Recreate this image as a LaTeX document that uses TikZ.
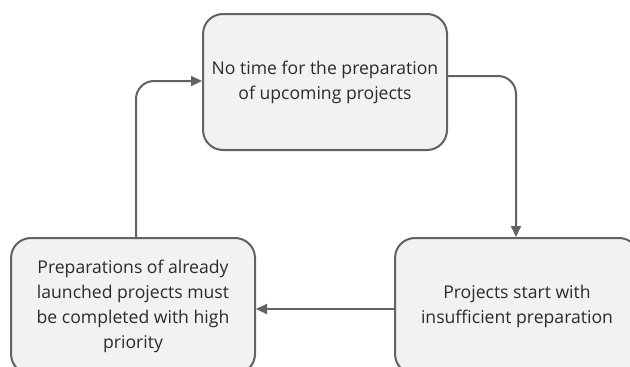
\documentclass[tikz,border=0pt]{standalone}
\usepackage{fontspec}
\setmainfont{Open Sans}
\usetikzlibrary{arrows.meta}
\definecolor{boxfill}{HTML}{F2F2F2}
\definecolor{boxline}{HTML}{626262}
\definecolor{txt}{HTML}{2B2B2B}
\tikzset{
  cyclebox/.style={draw=boxline, fill=boxfill, line width=2pt, rounded corners=20pt,
    minimum width=244pt, minimum height=136pt, align=center, text=txt,
    font=\fontsize{17.6}{25}\selectfont, inner sep=0pt},
  flow/.style={draw=boxline, line width=2pt, rounded corners=18pt,
    -{Triangle[length=11pt,width=10pt]}}
}
\begin{document}
\begin{tikzpicture}[x=1pt,y=-1pt]
  \useasboundingbox (0,0) rectangle (630,367);
  \clip (0,0) rectangle (630,367);
  \fill[white] (0,0) rectangle (630,367);
  \node[cyclebox] (top) at (325,82) {No time for the preparation\\of upcoming projects};
  \node[cyclebox] (right) at (517,306) {Projects start with\\insufficient preparation};
  \node[cyclebox] (left) at (133,306) {Preparations of already\\launched projects must\\be completed with high\\priority};
  \draw[flow] (top.east |- 0,76) -| (right.north -| 516,0);
  \draw[flow] (right.west |- 0,309) -- (left.east |- 0,309);
  \draw[flow] (left.north -| 136,0) |- (top.west |- 0,81);
\end{tikzpicture}
\end{document}
